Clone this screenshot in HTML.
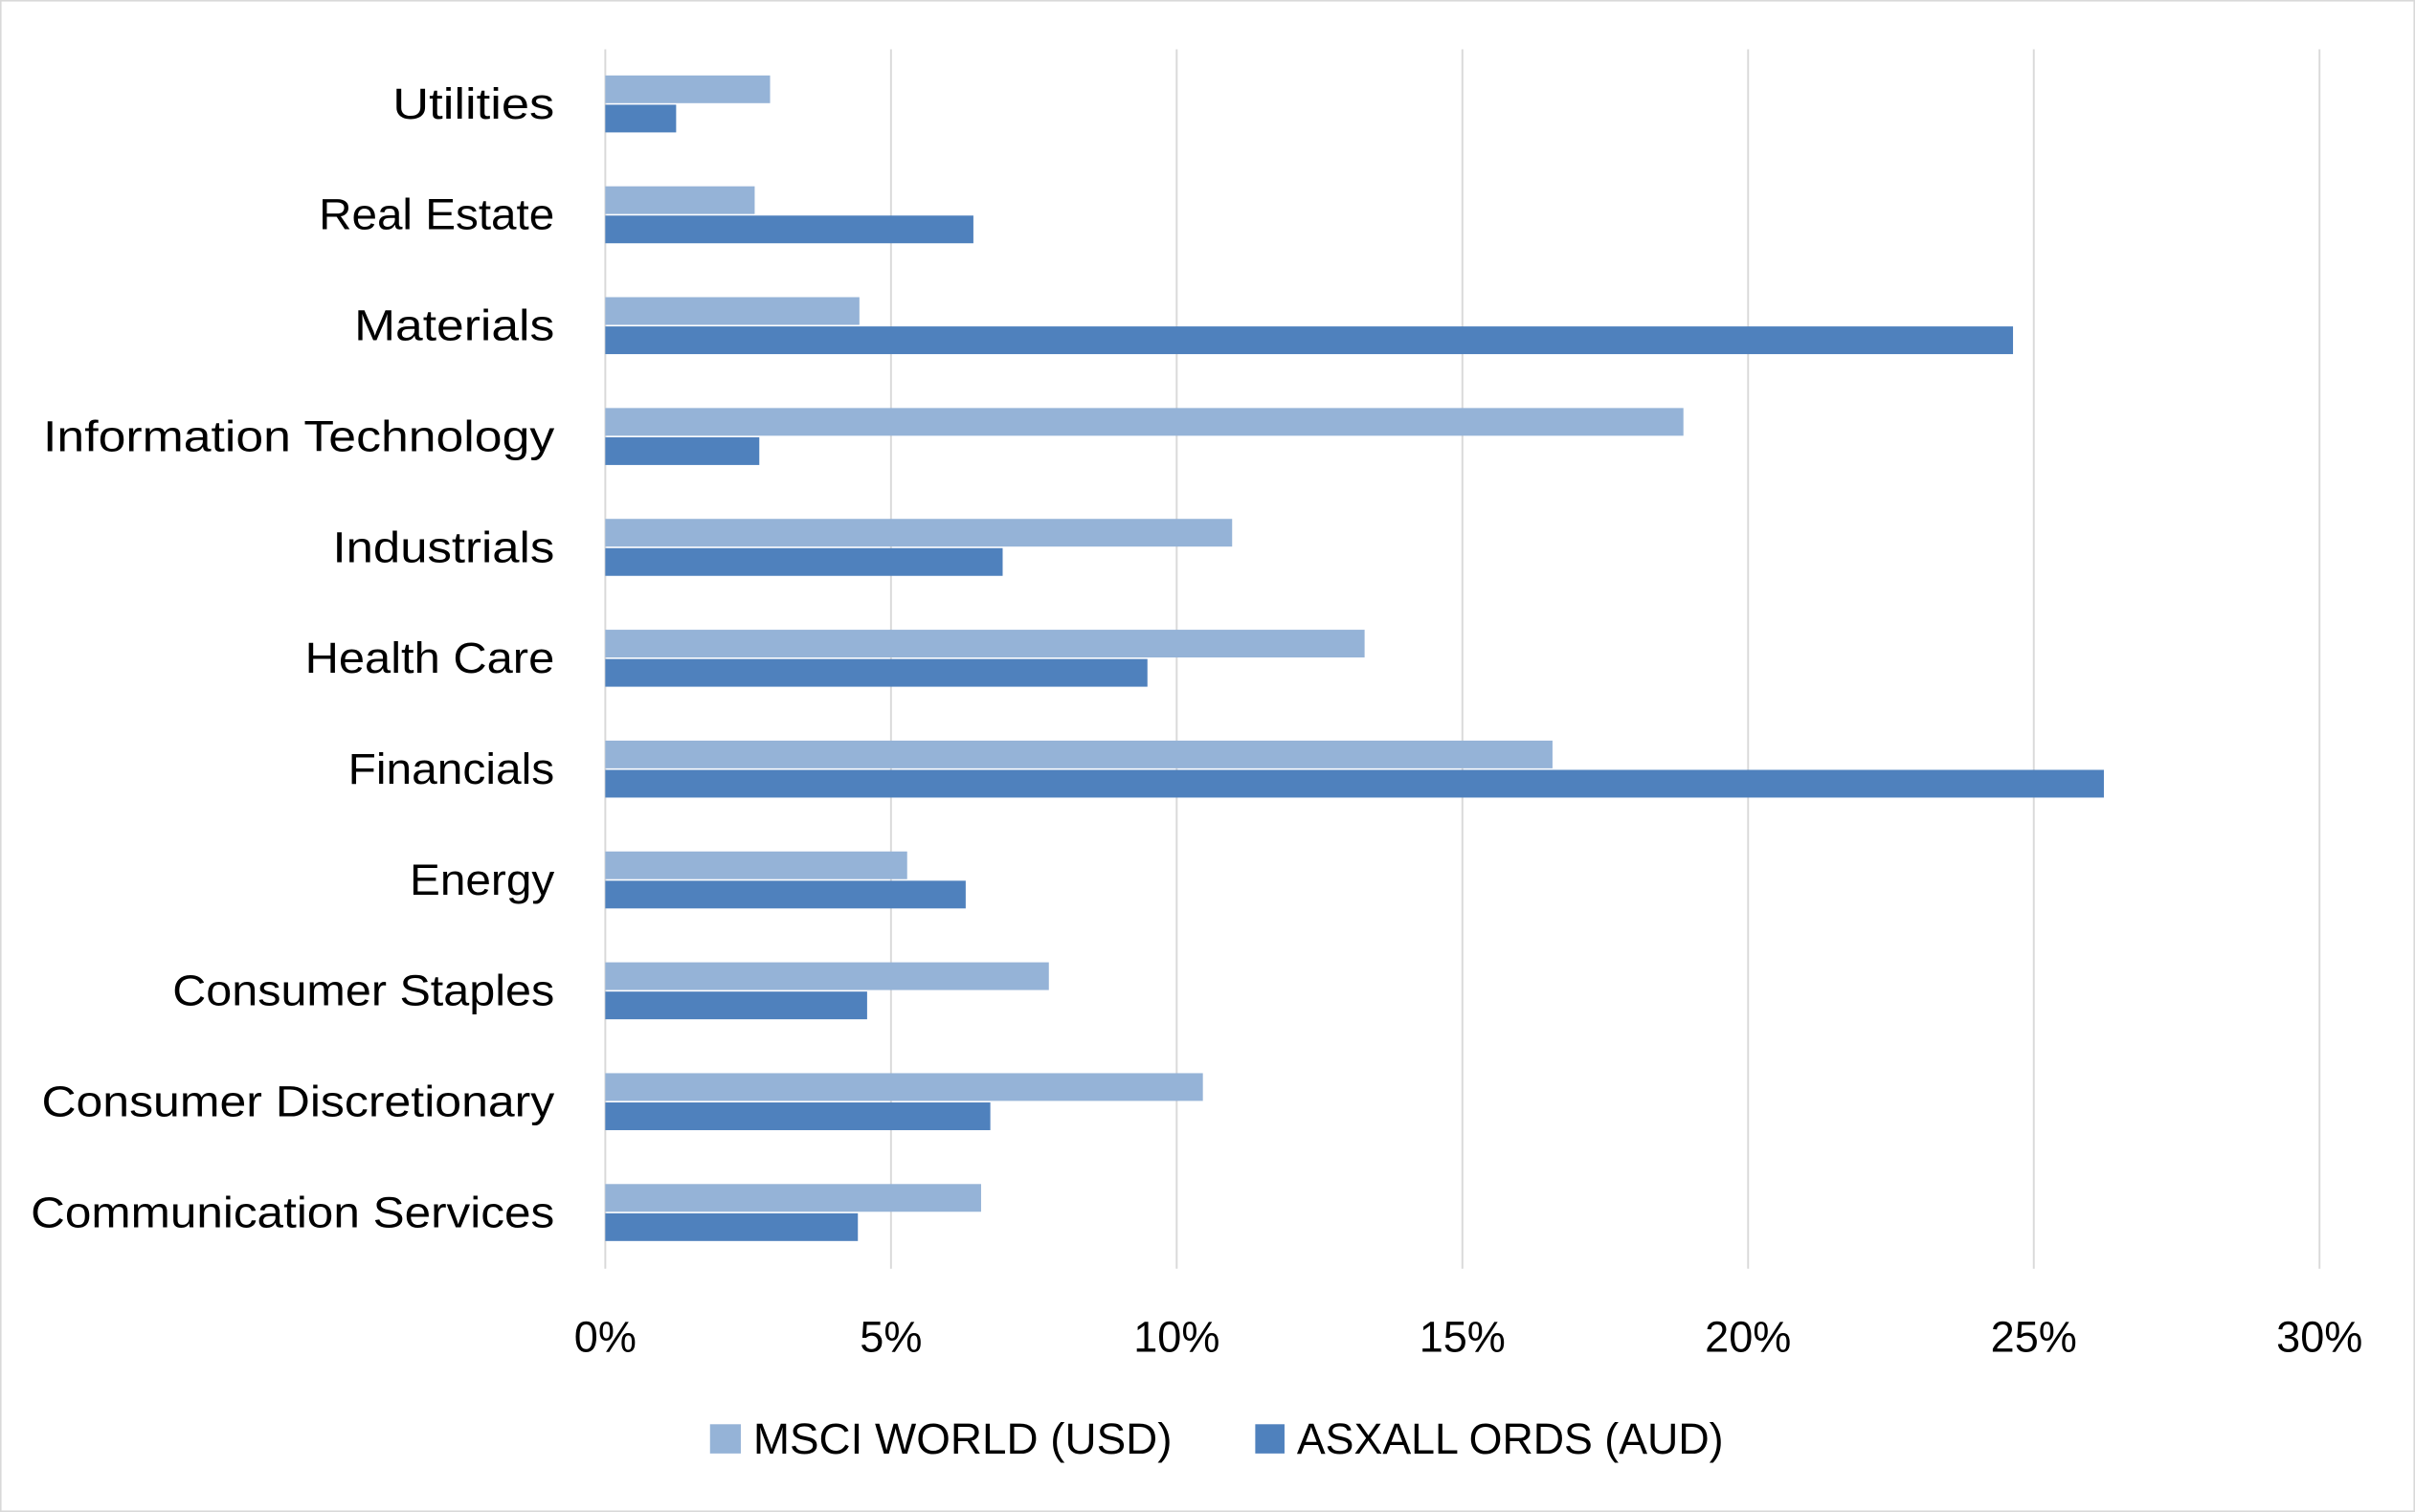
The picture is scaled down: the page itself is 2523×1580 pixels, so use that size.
<!DOCTYPE html>
<html><head><meta charset="utf-8"><style>
html,body{margin:0;padding:0;background:#fff;}
svg{display:block;}
text{font-family:"Liberation Sans",sans-serif;fill:#000;}
</style></head><body>
<svg width="2523" height="1580" viewBox="0 0 1568 982" preserveAspectRatio="none" xmlns="http://www.w3.org/2000/svg">
<rect x="0.5" y="0.5" width="1567" height="981" fill="#fff" stroke="#d9d9d9" stroke-width="1"/>
<g stroke="#d9d9d9" stroke-width="1.2">
<line x1="393" y1="32" x2="393" y2="824"/>
<line x1="578.5" y1="32" x2="578.5" y2="824"/>
<line x1="764" y1="32" x2="764" y2="824"/>
<line x1="949.5" y1="32" x2="949.5" y2="824"/>
<line x1="1135" y1="32" x2="1135" y2="824"/>
<line x1="1320.5" y1="32" x2="1320.5" y2="824"/>
<line x1="1506" y1="32" x2="1506" y2="824"/>
</g>
<g>
<rect x="393" y="49" width="107" height="18" fill="#95B3D7"/><rect x="393" y="68" width="46" height="18" fill="#4F81BD"/>
<rect x="393" y="121" width="97" height="18" fill="#95B3D7"/><rect x="393" y="140" width="239" height="18" fill="#4F81BD"/>
<rect x="393" y="193" width="165" height="18" fill="#95B3D7"/><rect x="393" y="212" width="914" height="18" fill="#4F81BD"/>
<rect x="393" y="265" width="700" height="18" fill="#95B3D7"/><rect x="393" y="284" width="100" height="18" fill="#4F81BD"/>
<rect x="393" y="337" width="407" height="18" fill="#95B3D7"/><rect x="393" y="356" width="258" height="18" fill="#4F81BD"/>
<rect x="393" y="409" width="493" height="18" fill="#95B3D7"/><rect x="393" y="428" width="352" height="18" fill="#4F81BD"/>
<rect x="393" y="481" width="615" height="18" fill="#95B3D7"/><rect x="393" y="500" width="973" height="18" fill="#4F81BD"/>
<rect x="393" y="553" width="196" height="18" fill="#95B3D7"/><rect x="393" y="572" width="234" height="18" fill="#4F81BD"/>
<rect x="393" y="625" width="288" height="18" fill="#95B3D7"/><rect x="393" y="644" width="170" height="18" fill="#4F81BD"/>
<rect x="393" y="697" width="388" height="18" fill="#95B3D7"/><rect x="393" y="716" width="250" height="18" fill="#4F81BD"/>
<rect x="393" y="769" width="244" height="18" fill="#95B3D7"/><rect x="393" y="788" width="164" height="18" fill="#4F81BD"/>
</g>
<g font-size="28">
<text x="255" y="77" textLength="105" lengthAdjust="spacingAndGlyphs">Utilities</text>
<text x="207" y="149" textLength="153" lengthAdjust="spacingAndGlyphs">Real Estate</text>
<text x="230" y="221" textLength="130" lengthAdjust="spacingAndGlyphs">Materials</text>
<text x="28" y="293" textLength="332" lengthAdjust="spacingAndGlyphs">Information Technology</text>
<text x="216" y="365" textLength="144" lengthAdjust="spacingAndGlyphs">Industrials</text>
<text x="198" y="437" textLength="162" lengthAdjust="spacingAndGlyphs">Health Care</text>
<text x="226" y="509" textLength="134" lengthAdjust="spacingAndGlyphs">Financials</text>
<text x="266" y="581" textLength="94" lengthAdjust="spacingAndGlyphs">Energy</text>
<text x="112" y="653" textLength="248" lengthAdjust="spacingAndGlyphs">Consumer Staples</text>
<text x="27" y="725" textLength="333" lengthAdjust="spacingAndGlyphs">Consumer Discretionary</text>
<text x="20" y="797" textLength="340" lengthAdjust="spacingAndGlyphs">Communication Services</text>
</g>
<g font-size="28" text-anchor="middle">
<text x="393" y="878">0%</text>
<text x="578.5" y="878">5%</text>
<text x="764" y="878">10%</text>
<text x="949.5" y="878">15%</text>
<text x="1135" y="878">20%</text>
<text x="1320.5" y="878">25%</text>
<text x="1506" y="878">30%</text>
</g>
<rect x="461" y="925" width="20" height="19" fill="#95B3D7"/>
<text x="489" y="944" font-size="28" textLength="272" lengthAdjust="spacingAndGlyphs">MSCI WORLD (USD)</text>
<rect x="815" y="925" width="19" height="19" fill="#4F81BD"/>
<text x="842" y="944" font-size="28" textLength="277" lengthAdjust="spacingAndGlyphs">ASXALL ORDS (AUD)</text>
</svg>
</body></html>
